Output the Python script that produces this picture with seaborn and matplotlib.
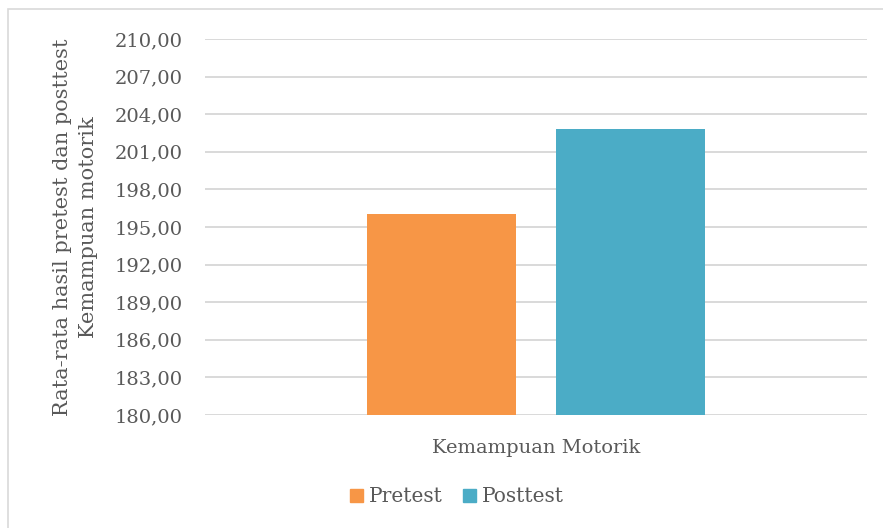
import matplotlib
matplotlib.use("Agg")
import matplotlib.pyplot as plt
import seaborn as sns
import pandas as pd
from matplotlib.patches import Rectangle
from matplotlib.ticker import FixedLocator, FuncFormatter

categories = ["Kemampuan Motorik"]
series = ["Pretest", "Posttest"]
values = [196.05, 202.82]
colors = ["#F79646", "#4BACC6"]
yticks = [180, 183, 186, 189, 192, 195, 198, 201, 204, 207, 210]

df = pd.DataFrame({"cat": categories * 2, "series": series, "value": values})

sns.set_theme(style="white")
plt.rcParams["font.family"] = ["DejaVu Serif"]
text_color = "#595959"

fig = plt.figure(figsize=(8.83, 5.28), dpi=100)
ax = fig.add_axes([205/883, 1-415/528, 662/883, (415-39)/528])

sns.barplot(data=df, x="cat", y="value", hue="series", palette=colors,
            width=0.57, gap=0.207, ax=ax, legend=False, saturation=1,
            linewidth=0)

ax.set_ylim(180, 210)
ax.set_xlim(-0.5, 0.5)
ax.yaxis.set_major_locator(FixedLocator(yticks))
ax.yaxis.set_major_formatter(FuncFormatter(lambda v, p: f"{v:.2f}".replace(".", ",")))
ax.grid(axis="y", color="#D9D9D9", linewidth=1.4, zorder=0)
ax.set_axisbelow(True)
for s in ax.spines.values():
    s.set_visible(False)
ax.tick_params(axis="both", length=0, labelsize=14, colors=text_color)
ax.tick_params(axis="y", pad=16)
ax.tick_params(axis="x", pad=17)
ax.set_xlabel("")
ax.set_ylabel("Rata-rata hasil pretest dan posttest\nKemampuan motorik",
              fontsize=15, color=text_color, linespacing=1.45, labelpad=12)

handles = [Rectangle((0, 0), 1, 1, color=c) for c in colors]
fig.legend(handles, series, loc="center", bbox_to_anchor=(457/883, 1-497/528),
           ncol=2, frameon=False, fontsize=14.5, labelcolor=text_color,
           handlelength=0.65, handleheight=0.65, handletextpad=0.3, columnspacing=1.0)

fig.patches.append(Rectangle((8/883, -0.05), 2, 1.05 - 9/528, transform=fig.transFigure,
                             fill=False, edgecolor="#D9D9D9", linewidth=1.2))

fig.savefig("out.png", dpi=100, facecolor="white")
